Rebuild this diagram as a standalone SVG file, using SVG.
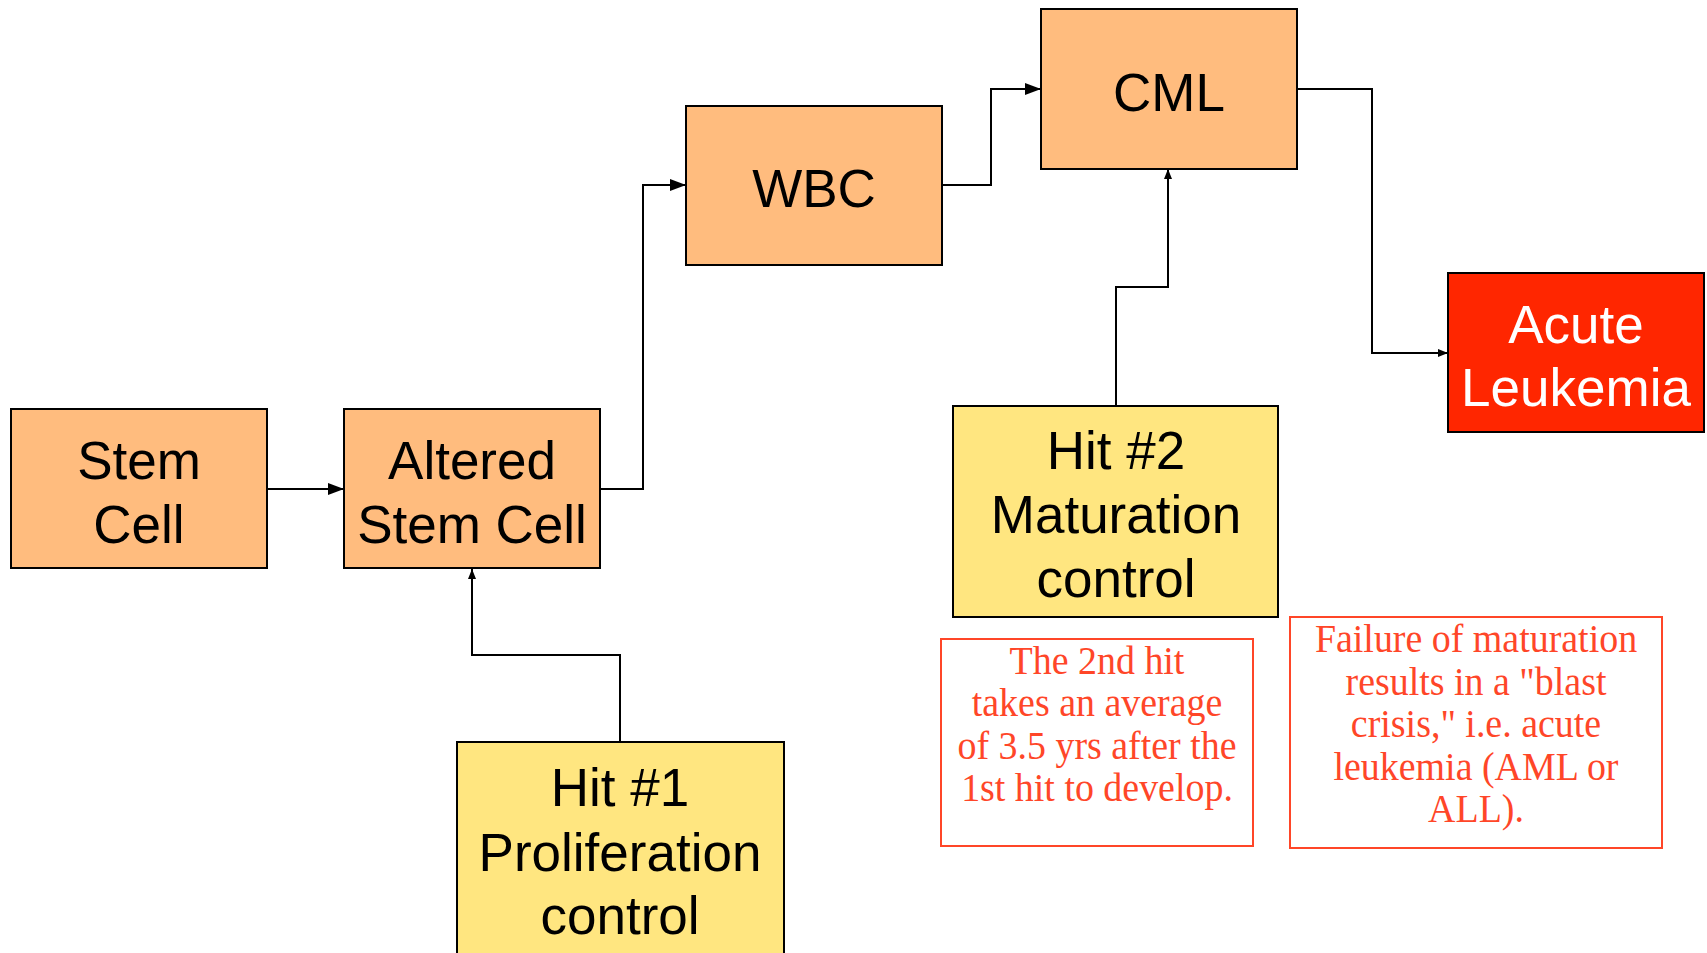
<svg xmlns="http://www.w3.org/2000/svg" width="1707" height="953" viewBox="0 0 1707 953">
<style>
.box{stroke:#000;stroke-width:2}
.orange{fill:#FFBC7E}
.yellow{fill:#FFE680}
.red{fill:#FF2600}
.lbl{font-family:"Liberation Sans",Arial,sans-serif;font-size:53px;text-anchor:middle;fill:#000}
.white{fill:#fff}
.note{fill:#fff;stroke:#FF4628;stroke-width:2}
.ntxt{font-family:"Liberation Serif","Times New Roman",serif;font-size:41px;text-anchor:middle;fill:#FF4628}
.conn{fill:none;stroke:#000;stroke-width:2}
</style>
<defs>
<marker id="big" markerWidth="16" markerHeight="12" refX="16" refY="6" orient="auto" markerUnits="userSpaceOnUse"><path d="M0,0 L16,6 L0,12 z" fill="#000"/></marker>
<marker id="small" markerWidth="10" markerHeight="8" refX="10" refY="4" orient="auto" markerUnits="userSpaceOnUse"><path d="M0,0 L10,4 L0,8 z" fill="#000"/></marker>
</defs>
<rect width="1707" height="953" fill="#fff"/>
<g id="connectors">
<path class="conn" d="M267,489 H344" marker-end="url(#big)"/>
<path class="conn" d="M600,489 H643 V185 H686" marker-end="url(#big)"/>
<path class="conn" d="M942,185 H991 V89 H1041" marker-end="url(#big)"/>
<path class="conn" d="M1297,89 H1372 V353 H1448" marker-end="url(#small)"/>
<path class="conn" d="M620,742 V655 H472 V569" marker-end="url(#small)"/>
<path class="conn" d="M1116,406 V287 H1168 V169" marker-end="url(#small)"/>
</g>
<g id="stem-cell">
<rect class="box orange" x="11" y="409" width="256" height="159"/>
<text class="lbl" x="139" y="479">Stem</text>
<text class="lbl" x="139" y="543">Cell</text>
</g>
<g id="altered-stem-cell">
<rect class="box orange" x="344" y="409" width="256" height="159"/>
<text class="lbl" x="472" y="479">Altered</text>
<text class="lbl" x="472" y="543">Stem Cell</text>
</g>
<g id="wbc">
<rect class="box orange" x="686" y="106" width="256" height="159"/>
<text class="lbl" x="814" y="207">WBC</text>
</g>
<g id="cml">
<rect class="box orange" x="1041" y="9" width="256" height="160"/>
<text class="lbl" x="1169" y="111">CML</text>
</g>
<g id="acute-leukemia">
<rect class="box red" x="1448" y="273" width="256" height="159"/>
<text class="lbl white" x="1576" y="343">Acute</text>
<text class="lbl white" x="1576" y="406">Leukemia</text>
</g>
<g id="hit2">
<rect class="box yellow" x="953" y="406" width="325" height="211"/>
<text class="lbl" x="1116" y="469">Hit #2</text>
<text class="lbl" x="1116" y="533">Maturation</text>
<text class="lbl" x="1116" y="597">control</text>
</g>
<g id="hit1">
<rect class="box yellow" x="457" y="742" width="327" height="220"/>
<text class="lbl" x="620" y="806">Hit #1</text>
<text class="lbl" x="620" y="871">Proliferation</text>
<text class="lbl" x="620" y="934">control</text>
</g>
<g id="note-2nd-hit">
<rect class="note" x="941" y="639" width="312" height="207"/>
<g transform="translate(1097,0) scale(0.925,1)">
<text class="ntxt" x="0" y="674">The 2nd hit</text>
<text class="ntxt" x="0" y="716">takes an average</text>
<text class="ntxt" x="0" y="759">of 3.5 yrs after the</text>
<text class="ntxt" x="0" y="801">1st hit to develop.</text>
</g>
</g>
<g id="note-blast-crisis">
<rect class="note" x="1290" y="617" width="372" height="231"/>
<g transform="translate(1476,0) scale(0.925,1)">
<text class="ntxt" x="0" y="652">Failure of maturation</text>
<text class="ntxt" x="0" y="695">results in a "blast</text>
<text class="ntxt" x="0" y="737">crisis," i.e. acute</text>
<text class="ntxt" x="0" y="780">leukemia (AML or</text>
<text class="ntxt" x="0" y="822">ALL).</text>
</g>
</g>
</svg>
